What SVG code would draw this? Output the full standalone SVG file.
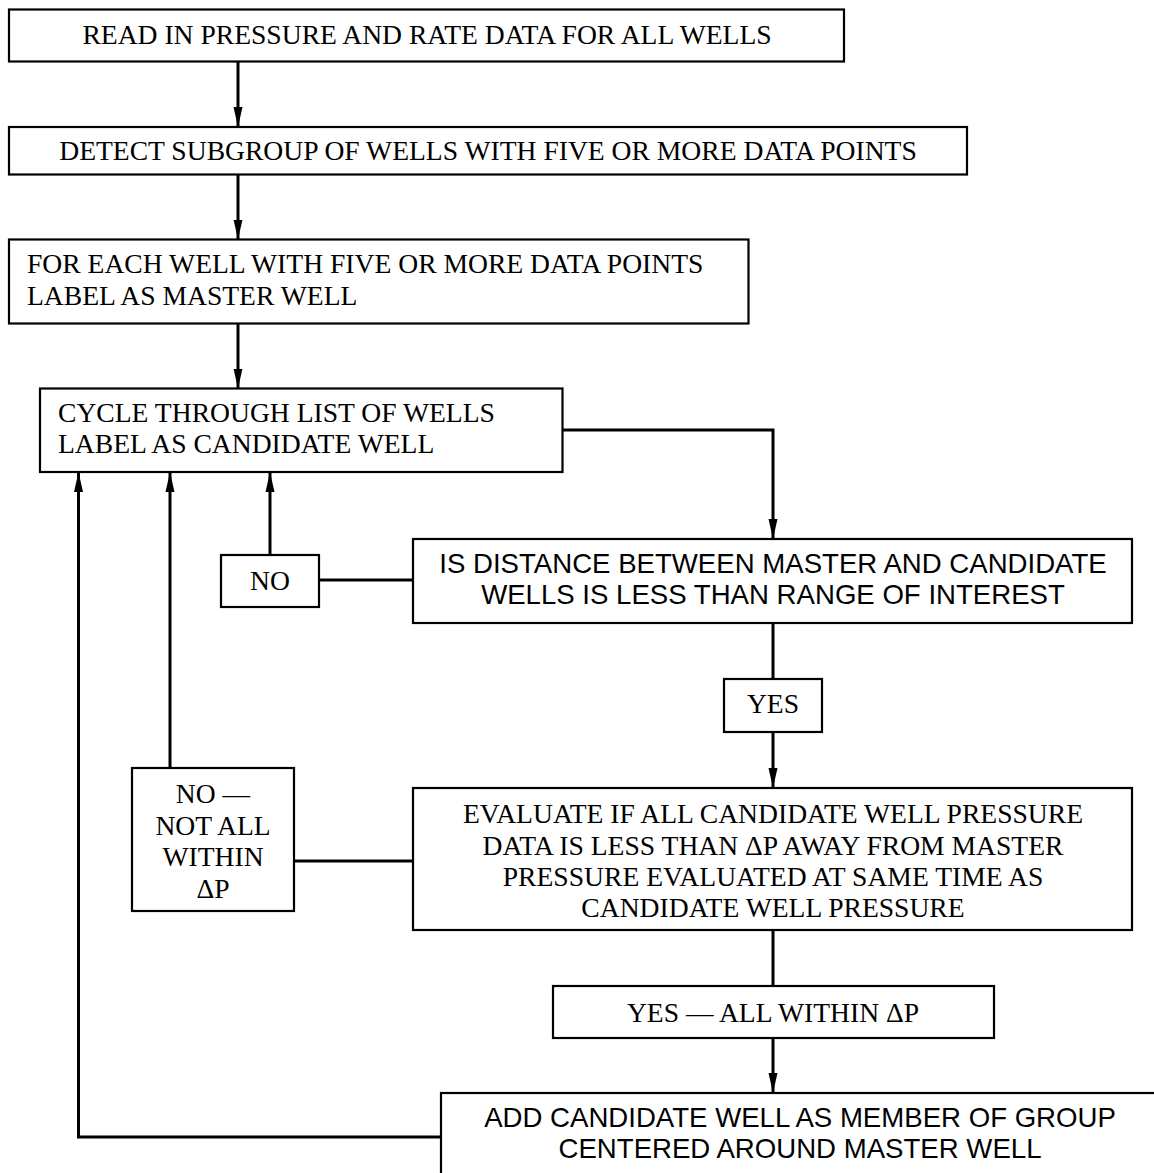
<svg xmlns="http://www.w3.org/2000/svg" width="1154" height="1173" viewBox="0 0 1154 1173">
<style>
.box{fill:#fff;stroke:#000;stroke-width:2.2}
.ser{font-family:"Liberation Serif","Times New Roman",serif;font-size:27.6px;fill:#000}
.san{font-family:"Liberation Sans",Arial,sans-serif;font-size:27.6px;fill:#000}
.c{text-anchor:middle}
.ln{fill:none;stroke:#000;stroke-width:3}
</style>
<defs>
<marker id="ah" markerUnits="userSpaceOnUse" markerWidth="20" markerHeight="10" refX="20" refY="5" orient="auto">
<path d="M0,0.5 L20,5 L0,9.5 z" fill="#000"/>
</marker>
</defs>
<rect width="1154" height="1173" fill="#fff"/>
<g id="connectors">
<path class="ln" d="M238,62 V127" marker-end="url(#ah)"/>
<path class="ln" d="M238,174.5 V239.5" marker-end="url(#ah)"/>
<path class="ln" d="M238,323.5 V388.5" marker-end="url(#ah)"/>
<path class="ln" d="M562.5,430 H773 V539" marker-end="url(#ah)"/>
<path class="ln" d="M413,580 H319"/>
<path class="ln" d="M270,555 V472" marker-end="url(#ah)"/>
<path class="ln" d="M773,623 V679"/>
<path class="ln" d="M773,732 V788" marker-end="url(#ah)"/>
<path class="ln" d="M413,861 H294"/>
<path class="ln" d="M170,768 V472" marker-end="url(#ah)"/>
<path class="ln" d="M773,930 V986"/>
<path class="ln" d="M773,1038 V1093" marker-end="url(#ah)"/>
<path class="ln" d="M441,1137 H78.5 V472" marker-end="url(#ah)"/>
</g>
<g id="n1"><rect class="box" x="9" y="9.5" width="835" height="52"/>
<text class="ser c" x="427" y="44">READ IN PRESSURE AND RATE DATA FOR ALL WELLS</text></g>
<g id="n2"><rect class="box" x="9" y="127" width="958" height="47.5"/>
<text class="ser c" x="488" y="160">DETECT SUBGROUP OF WELLS WITH FIVE OR MORE DATA POINTS</text></g>
<g id="n3"><rect class="box" x="9" y="239.5" width="739.5" height="84"/>
<text class="ser" x="27" y="273">FOR EACH WELL WITH FIVE OR MORE DATA POINTS</text>
<text class="ser" x="27" y="305">LABEL AS MASTER WELL</text></g>
<g id="n4"><rect class="box" x="40" y="388.5" width="522.5" height="83.5"/>
<text class="ser" x="58" y="422">CYCLE THROUGH LIST OF WELLS</text>
<text class="ser" x="58" y="453">LABEL AS CANDIDATE WELL</text></g>
<g id="n5"><rect class="box" x="413" y="539" width="719" height="84"/>
<text class="san c" x="773" y="573">IS DISTANCE BETWEEN MASTER AND CANDIDATE</text>
<text class="san c" x="773" y="604">WELLS IS LESS THAN RANGE OF INTEREST</text></g>
<g id="no"><rect class="box" x="221" y="555" width="98" height="52"/>
<text class="ser c" x="270" y="590">NO</text></g>
<g id="yes"><rect class="box" x="724" y="679" width="98" height="53"/>
<text class="ser c" x="773" y="713">YES</text></g>
<g id="notall"><rect class="box" x="132" y="768" width="162" height="143"/>
<text class="ser c" x="213" y="803">NO —</text>
<text class="ser c" x="213" y="835">NOT ALL</text>
<text class="ser c" x="213" y="866">WITHIN</text>
<text class="ser c" x="213" y="898">ΔP</text></g>
<g id="n6"><rect class="box" x="413" y="788" width="719" height="142"/>
<text class="ser c" x="773" y="823">EVALUATE IF ALL CANDIDATE WELL PRESSURE</text>
<text class="ser c" x="773" y="855">DATA IS LESS THAN ΔP AWAY FROM MASTER</text>
<text class="ser c" x="773" y="886">PRESSURE EVALUATED AT SAME TIME AS</text>
<text class="ser c" x="773" y="917">CANDIDATE WELL PRESSURE</text></g>
<g id="yesall"><rect class="box" x="553" y="986" width="441" height="52"/>
<text class="ser c" x="773" y="1022">YES — ALL WITHIN ΔP</text></g>
<g id="n7"><rect class="box" x="441" y="1093" width="719" height="100"/>
<text class="san c" x="800" y="1127">ADD CANDIDATE WELL AS MEMBER OF GROUP</text>
<text class="san c" x="800" y="1158">CENTERED AROUND MASTER WELL</text></g>
</svg>
